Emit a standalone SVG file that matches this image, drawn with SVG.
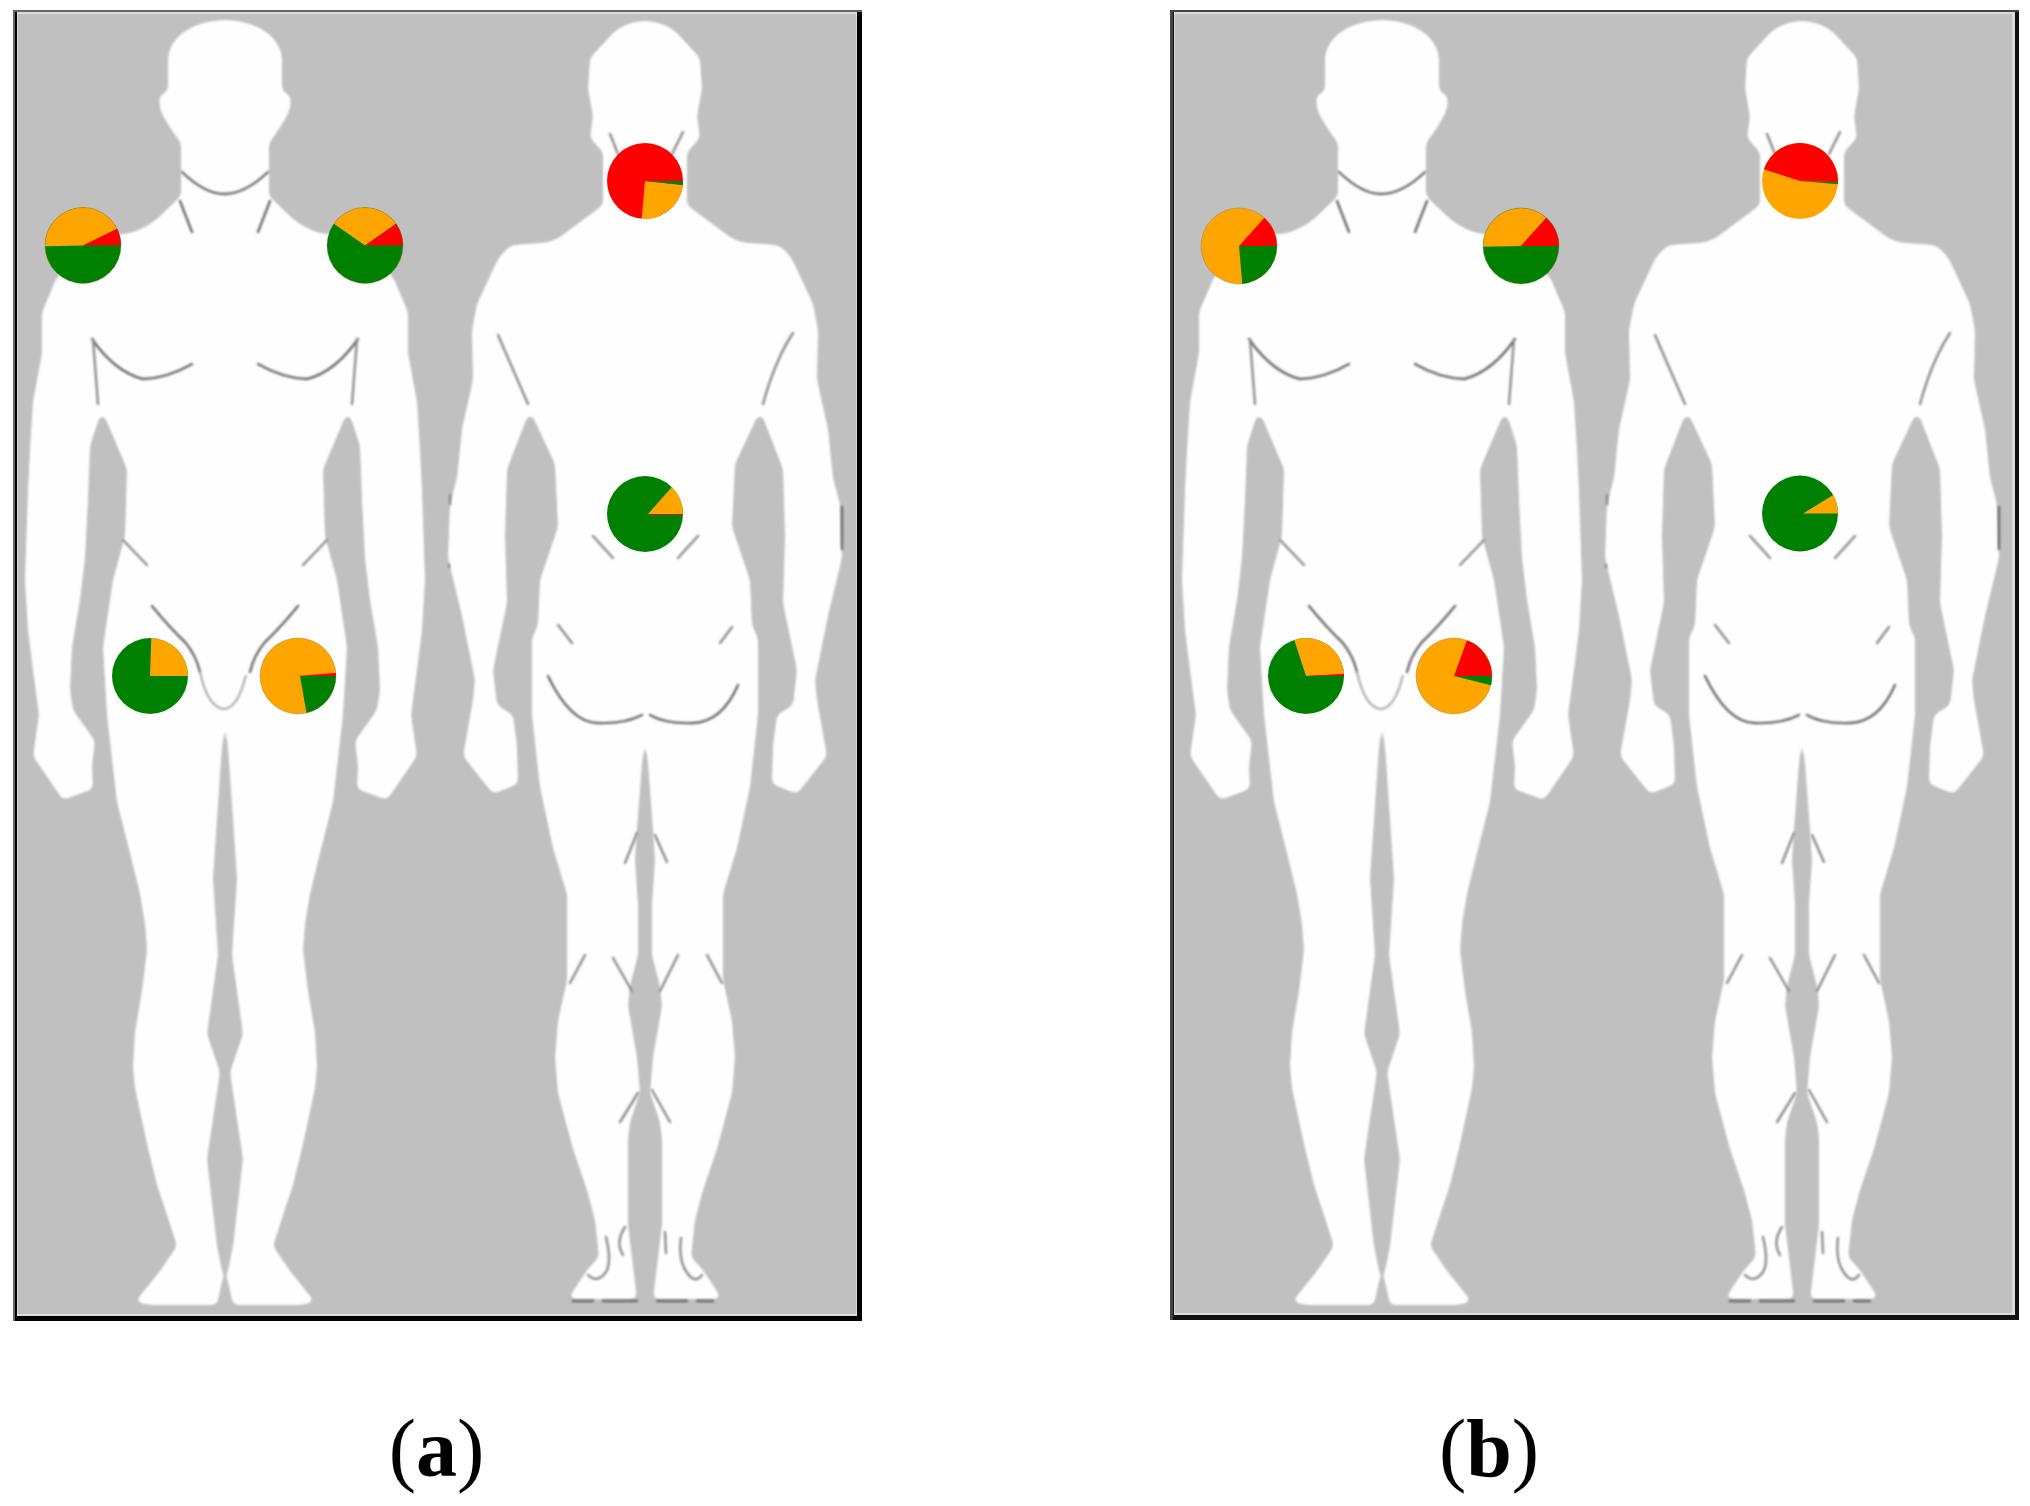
<svg xmlns="http://www.w3.org/2000/svg" width="2030" height="1506" viewBox="0 0 2030 1506">
<style>
.bg{fill:#c0c0c0}
.body{fill:#fefefe}
.m{fill:none;stroke:#6a6a6a;stroke-width:2.4;stroke-linecap:round;stroke-linejoin:round}
.l{fill:none;stroke:#8c8c8c;stroke-width:2.4;stroke-linecap:round}
.r{fill:#ff0000}.o{fill:#ffa500}.g{fill:#008000}
.rim{fill:none;stroke:#7d6b2a;stroke-opacity:.35;stroke-width:1}
.cap{font-family:"Liberation Serif","Times New Roman",serif;font-size:82px;fill:#000}
.capb{font-weight:700}
</style>
<defs>
<filter id="smooth" filterUnits="userSpaceOnUse" x="0" y="0" width="880" height="1330" color-interpolation-filters="sRGB">
<feGaussianBlur stdDeviation="3.4"/>
<feComponentTransfer><feFuncA type="linear" slope="10" intercept="-4.5"/></feComponentTransfer>
<feGaussianBlur stdDeviation="1"/>
</filter>
<filter id="soft" filterUnits="userSpaceOnUse" x="0" y="0" width="880" height="1330"><feGaussianBlur stdDeviation="0.9"/></filter>
<filter id="softpie" x="-10%" y="-10%" width="120%" height="120%"><feGaussianBlur stdDeviation="0.7"/></filter>
<circle id="pg" r="38" class="g"/>
<circle id="po" r="38" class="o"/>
<circle id="pr" r="38" class="r"/>
<circle id="rim" r="38" class="rim"/>
<path id="fh" class="body" d="M223 20C255 20 280 35 282 58L282 91L291 96L290 109Q285 122 269 143L269 196L293 219Q310 232 325 234L345 235L393 277L408 312L408 353L417 402L420 450L422 491L425 580L422 630L417 670L411 715L417 756L387 800L357 789L358 766L355 741L377 710L380 690L378 647L370 600L365 558L362 500L360 446L350 415L346 415L323 469L325 536L337 580L347 647L343 715L333 802L320 853L310 894L305 924L303 950L308 991L315 1032L317 1067L315 1088L303 1144L293 1185L283 1215L273 1246L290 1271L315 1302L300 1305L233 1305L227 1276L233 1246L243 1159L230 1072L243 1034L232 955L237 878L231 790L226 716L223 712Z"/>
<g id="fm">
<path class="m" d="M180 201L192 232"/>
<path class="m" d="M92 339Q115 372 143 379Q168 378 192 364"/>
<path class="l" d="M93 339L98 404"/>
<path class="l" d="M123 540L147 565"/>
<path class="m" d="M152 606Q170 628 185 642Q196 655 200 672"/>
</g>
<g id="front-marks">
<use href="#fm"/>
<use href="#fm" transform="matrix(-1 0 0 1 450 0)"/>
<path class="m" d="M182 172Q205 194 224 194Q245 194 268 172"/>
<path d="M200 672Q208 708 224 709Q238 708 246 675" fill="none" stroke="#a8a8a8" stroke-width="2"/>
</g>
<path id="bh" class="body" d="M643 21C660 21 670 27 677 33L700 58L702 89L697 116L700 138L687 152L687 205L730 237Q740 243 750 243L777 245Q785 248 793 261L813 304L818 330L817 380L828 429L833 478L840 504L842 558L828 616L815 680L817 700L827 756L797 794L772 784L773 746L777 715L793 705L797 670L783 603L785 536L783 469L762 415L758 415L735 464L732 527L750 580L752 625L758 638L758 715L750 787L737 848L723 894L723 955L723 980L732 1021L735 1057L732 1093L717 1149L703 1190L695 1220L691 1257L703 1270L722 1299L653 1299L662 1225L662 1139L660 1122L650 1093L653 1057L662 1006L660 986L652 955L652 904L655 860L653 830L650 790L646 732L643 728Z"/>
<g id="back-marks">
<path class="l" d="M610 134L618 154M683 132L672 154"/>
<path class="l" d="M498 335L528 404M793 333Q775 360 763 404"/>
<path class="l" d="M593 536L613 558M698 536L678 558"/>
<path class="l" d="M558 625L572 643M732 627L720 643"/>
<path class="m" d="M548 676Q570 722 597 723Q625 724 642 715M650 715Q665 724 693 723Q722 722 738 685"/>
<path class="l" d="M625 863L637 833M667 862L655 835"/>
<path class="l" d="M570 983L585 955M613 958L632 991M678 955L660 991M707 955L722 983"/>
<path class="l" d="M620 1122L638 1093M670 1122L652 1090"/>
<path class="l" d="M606 1237Q612 1262 606 1272Q597 1284 588 1275M681 1238Q678 1262 688 1274Q695 1284 702 1275"/>
<path class="l" d="M625 1227Q615 1242 623 1255M665 1232L666 1253"/>
<path class="m" d="M573 1301H593M603 1301H637M657 1301H687M697 1301H713"/>
<path class="l" d="M450 495V504M449 565V567"/>
<path class="m" d="M842 507V549"/>
</g>
<g id="bodies">
<use href="#fh"/>
<use href="#fh" transform="matrix(-1 0 0 1 450 0)"/>
<use href="#bh"/>
<use href="#bh" transform="matrix(-1 0 0 1 1290 0)"/>
</g>
<g id="marks"><use href="#front-marks"/><use href="#back-marks"/></g>
</defs>

<g id="panel-a">
<rect x="13" y="10" width="849" height="1311" fill="#000"/>
<rect x="13" y="10" width="849" height="2" fill="#666"/>
<rect x="13" y="10" width="2" height="1311" fill="#666"/>
<rect x="17" y="12" width="840" height="1304" fill="#dcdcdc"/>
<rect x="18" y="14" width="838" height="1300" class="bg"/>
<g id="figures-a"><use href="#bodies" filter="url(#smooth)"/><use href="#marks" filter="url(#soft)"/></g>
<g id="pies-a" filter="url(#softpie)">
<g id="a-shoulder-left" transform="translate(83,245.5)"><use href="#pg"/><path class="o" d="M0 0L34.2 -16.7A38 38 0 0 0 -38 .7Z"/><path class="r" d="M0 0L38 0A38 38 0 0 0 34.2 -16.7Z"/><use href="#rim"/></g>
<g id="a-shoulder-right" transform="translate(365,245.5)"><use href="#pg"/><path class="o" d="M0 0L31.1 -21.8A38 38 0 0 0 -31.1 -21.8Z"/><path class="r" d="M0 0L38 0A38 38 0 0 0 31.1 -21.8Z"/><use href="#rim"/></g>
<g id="a-neck" transform="translate(645,181)"><use href="#pr"/><path class="o" d="M0 0L37.8 4A38 38 0 0 1 -3.3 37.9Z"/><path class="g" d="M0 0L38 0A38 38 0 0 1 37.8 4Z"/></g>
<g id="a-abdomen" transform="translate(645,514)"><use href="#pg"/><path class="o" d="M3 0L26.9 -26.9A38 38 0 0 1 38 0Z"/><path class="r" d="M3 0H38V1.2H3Z" opacity=".6"/></g>
<g id="a-groin-left" transform="translate(150,676)"><use href="#pg"/><path class="o" d="M0 0L1.3 -38A38 38 0 0 1 38 0Z"/></g>
<g id="a-groin-right" transform="translate(298,676)"><use href="#po"/><path class="g" d="M2 0L38 0A38 38 0 0 1 8.5 37Z"/><path class="r" d="M0 0L38 0A38 38 0 0 0 37.9 -3.3Z"/><use href="#rim"/></g>
</g>
</g>

<g id="panel-b">
<rect x="1170" y="10" width="849" height="1310" fill="#111"/>
<rect x="1170" y="10" width="849" height="2" fill="#444"/>
<rect x="1170" y="10" width="3" height="1310" fill="#444"/>
<rect x="1174" y="12" width="841" height="1303" fill="#dcdcdc"/>
<rect x="1175" y="14" width="837" height="1299" class="bg"/>
<g id="figures-b" transform="translate(1157,0)"><use href="#bodies" filter="url(#smooth)"/><use href="#marks" filter="url(#soft)"/></g>
<g id="pies-b" filter="url(#softpie)">
<g id="b-shoulder-left" transform="translate(1239,246)"><use href="#po"/><path class="r" d="M0 0L38 0A38 38 0 0 0 25.4 -28.2Z"/><path class="g" d="M0 0L38 0A38 38 0 0 1 3.3 37.9Z"/><use href="#rim"/></g>
<g id="b-shoulder-right" transform="translate(1521,246)"><use href="#pg"/><path class="o" d="M0 0L25.4 -28.2A38 38 0 0 0 -38 .7Z"/><path class="r" d="M0 0L38 0A38 38 0 0 0 25.4 -28.2Z"/><use href="#rim"/></g>
<g id="b-neck" transform="translate(1800,181)"><use href="#po"/><path class="r" d="M0 0L38 1.3A38 38 0 0 0 -36.1 -11.7Z"/><path class="g" d="M0 0L38 1.3A38 38 0 0 1 37.9 3.3Z"/></g>
<g id="b-abdomen" transform="translate(1800,513.5)"><use href="#pg"/><path class="o" d="M3 0L33.2 -18.4A38 38 0 0 1 38 0Z"/></g>
<g id="b-groin-left" transform="translate(1306,676)"><use href="#pg"/><path class="o" d="M0 0L-11.7 -36.1A38 38 0 0 1 37.9 -2Z"/><path class="r" d="M0 0L37.9 -2A38 38 0 0 1 38 0Z"/></g>
<g id="b-groin-right" transform="translate(1454,676)"><use href="#po"/><path class="r" d="M0 0L38 0A38 38 0 0 0 13 -35.7Z"/><path class="g" d="M0 0L38 0A38 38 0 0 1 36.9 9.2Z"/><use href="#rim"/></g>
</g>
</g>

<g id="captions">
<text class="cap" x="436.5" y="1476" text-anchor="middle">(<tspan class="capb">a</tspan>)</text>
<text class="cap" x="1489" y="1476" text-anchor="middle">(<tspan class="capb">b</tspan>)</text>
</g>
</svg>
